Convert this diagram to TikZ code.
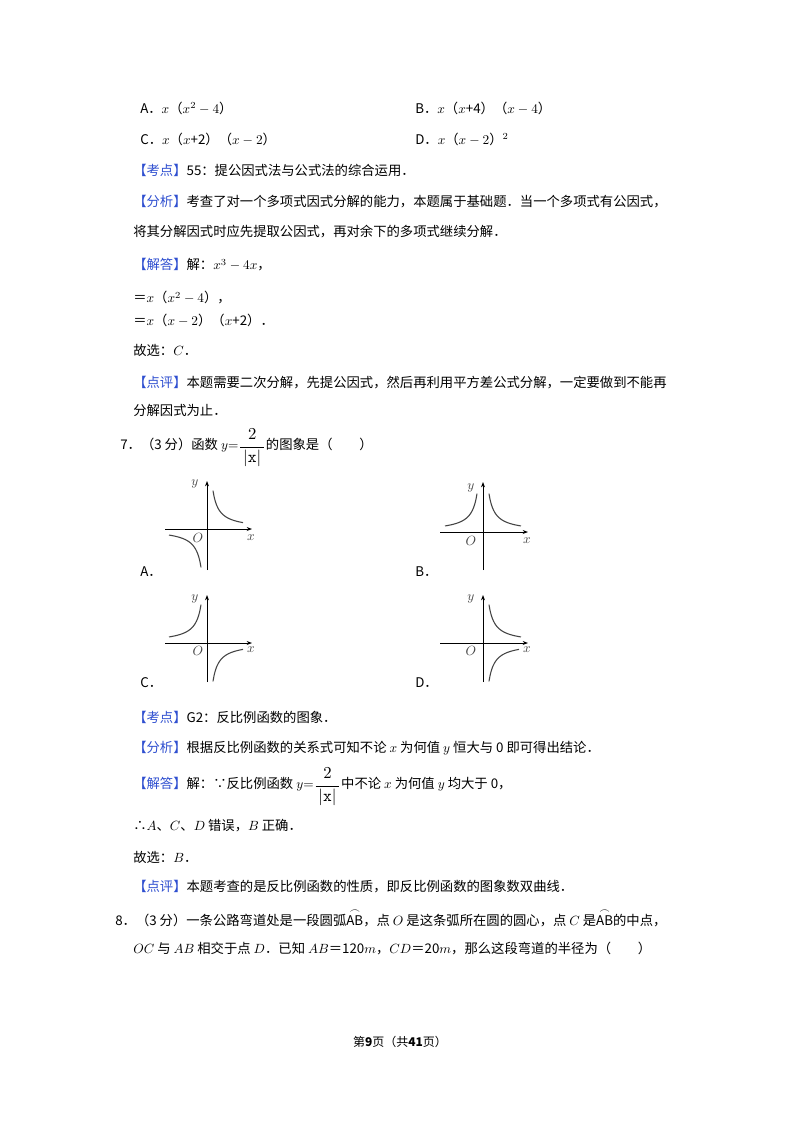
\documentclass[tikz,border=0pt]{standalone}
\usepackage{amsmath}
\usepackage{graphicx}
\usepackage{fontspec}
\setmainfont{Noto Sans CJK SC}
\definecolor{kblue}{HTML}{2F4FD0}
\definecolor{cgray}{HTML}{444444}
\newcommand{\kd}[1]{{\color{kblue}【#1】}}
\newcommand{\arcAB}{$\overset{\frown}{\mathrm{AB}}$}
\newcommand{\yfrac}{$y{=}$\raisebox{-0.2ex}{\scalebox{1.25}{$\dfrac{2}{\,|\mathtt{x}|\,}$}}}
\tikzset{txt/.style={anchor=west, inner sep=0pt, font=\fontsize{10}{12}\selectfont},
axis/.style={line width=0.7pt, -{Stealth[length=4pt,width=3pt]}},
curve/.style={cgray, line width=0.8pt, smooth},
lab/.style={inner sep=0pt, font=\fontsize{10}{10}\selectfont, text=cgray}}
\usetikzlibrary{arrows.meta}
\begin{document}
\begin{tikzpicture}[x=0.75pt,y=-0.75pt]
\useasboundingbox (0,0) rectangle (800,1132);
\fill[white] (0,0) rectangle (800,1132);
\node[txt] (a6) at (140,108) {A．$x$（$x^2-4$）};
\node[txt] (b6) at (415,108) {B．$x$（$x$+4）（$x-4$）};
\node[txt] (c6) at (140,139) {C．$x$（$x$+2）（$x-2$）};
\node[txt] (d6) at (415,139) {D．$x$（$x-2$）$^{2}$};
\node[txt] (k1) at (133,170) {\kd{考点}55：提公因式法与公式法的综合运用．};
\node[txt] (f1) at (133,202) {\kd{分析}考查了对一个多项式因式分解的能力，本题属于基础题．当一个多项式有公因式，};
\node[txt] (f1b) at (133,232) {将其分解因式时应先提取公因式，再对余下的多项式继续分解．};
\node[txt] (j1) at (133,265) {\kd{解答}解：$x^3-4x$，};
\node[txt] (j2) at (133,298) {＝$x$（$x^2-4$），};
\node[txt] (j3) at (133,320) {＝$x$（$x-2$）（$x$+2）．};
\node[txt] (g1) at (133,350) {故选：$C$．};
\node[txt] (p1) at (133,383) {\kd{点评}本题需要二次分解，先提公因式，然后再利用平方差公式分解，一定要做到不能再};
\node[txt] (p1b) at (133,410) {分解因式为止．};
\node[txt] (q7) at (120,448) {7．（3 分）函数 \yfrac 的图象是（\qquad）};
% graph A
\draw[axis] (165,529) -- (252,529);
\draw[axis] (207,570) -- (207,481);
\draw[curve] plot[domain=6:36,samples=30] ({207+\x},{529-230/\x});
\draw[curve] plot[domain=6:38,samples=30] ({207-\x},{529+230/\x});
\node[lab] (ay) at (195,484) {$y$};
\node[lab] (ao) at (198,538) {$O$};
\node[lab] (ax) at (251,538) {$x$};
\node[txt] (la) at (140,572) {A．};
% graph B
\draw[axis] (440,532) -- (528,532);
\draw[axis] (483,570) -- (483,482);
\draw[curve] plot[domain=6:38,samples=30] ({483+\x},{532-230/\x});
\draw[curve] plot[domain=6:38,samples=30] ({483-\x},{532-230/\x});
\node[lab] (by) at (471,488) {$y$};
\node[lab] (bo) at (471,541) {$O$};
\node[lab] (bx) at (527,541) {$x$};
\node[txt] (lb) at (415,572) {B．};
% graph C
\draw[axis] (165,643) -- (252,643);
\draw[axis] (207,682) -- (207,595);
\draw[curve] plot[domain=6:38,samples=30] ({207-\x},{643-230/\x});
\draw[curve] plot[domain=6:36,samples=30] ({207+\x},{643+230/\x});
\node[lab] (cy) at (195,599) {$y$};
\node[lab] (co) at (198,651) {$O$};
\node[lab] (cx) at (251,650) {$x$};
\node[txt] (lc) at (140,683) {C．};
% graph D
\draw[axis] (440,643) -- (528,643);
\draw[axis] (483,682) -- (483,595);
\draw[curve] plot[domain=6:38,samples=30] ({483+\x},{643-230/\x});
\draw[curve] plot[domain=6:36,samples=30] ({483+\x},{643+230/\x});
\node[lab] (dy) at (471,599) {$y$};
\node[lab] (do) at (471,651) {$O$};
\node[lab] (dx) at (527,650) {$x$};
\node[txt] (ld) at (415,683) {D．};
\node[txt] (k2) at (133,717) {\kd{考点}G2：反比例函数的图象．};
\node[txt] (f2) at (133,748) {\kd{分析}根据反比例函数的关系式可知不论 $x$ 为何值 $y$ 恒大与 0 即可得出结论．};
\node[txt] (j4) at (133,787) {\kd{解答}解：∵反比例函数 \yfrac 中不论 $x$ 为何值 $y$ 均大于 0，};
\node[txt] (j5) at (133,826) {∴$A$、$C$、$D$ 错误，$B$ 正确．};
\node[txt] (g2) at (133,857) {故选：$B$．};
\node[txt] (p2) at (133,887) {\kd{点评}本题考查的是反比例函数的性质，即反比例函数的图象数双曲线．};
\node[txt] (q8) at (115,918) {8．（3 分）一条公路弯道处是一段圆弧\arcAB，点 $O$ 是这条弧所在圆的圆心，点 $C$ 是\arcAB 的中点，};
\node[txt] (q8b) at (133,948) {$OC$ 与 $AB$ 相交于点 $D$．已知 $AB$＝120$m$，$CD$＝20$m$，那么这段弯道的半径为（\qquad）};
\node[inner sep=0pt, font=\fontsize{9}{10}\selectfont] (ft) at (400,1042) {第\textbf{9}页（共\textbf{41}页）};
\end{tikzpicture}
\end{document}
